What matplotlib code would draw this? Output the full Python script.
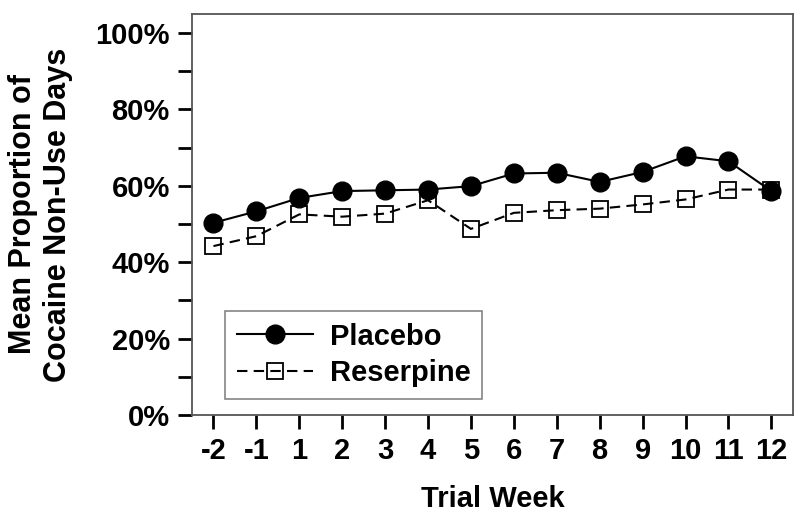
import numpy as np
import matplotlib.pyplot as plt
from matplotlib.ticker import MultipleLocator, FuncFormatter

plt.rcParams['font.family'] = ['Liberation Sans', 'DejaVu Sans']
plt.rcParams['font.weight'] = 'bold'

weeks = ['-2', '-1', '1', '2', '3', '4', '5', '6', '7', '8', '9', '10', '11', '12']
placebo = [50.3, 53.3, 56.8, 58.6, 58.8, 59.0, 59.9, 63.2, 63.4, 61.0, 63.6, 67.7, 66.4, 58.6]
reserpine = [44.2, 46.8, 52.5, 51.9, 52.7, 56.2, 48.7, 52.9, 53.6, 54.0, 55.1, 56.4, 59.0, 59.0]

x = np.arange(len(weeks))

fig = plt.figure(figsize=(8, 5.3), dpi=100)
ax = fig.add_axes([0.24, 0.217, 0.751, 0.757])

ax.plot(x, reserpine, color='black', lw=1.5, dashes=(5, 3), marker='s', ms=12,
        mfc='none', mec='black', mew=1.3, label='Reserpine', zorder=2)
ax.plot(x, placebo, color='black', lw=1.5, marker='o', ms=13.5, mfc='black',
        mec='black', label='Placebo', zorder=3)

ax.set_xlim(-0.5, 13.5)
ax.set_ylim(0, 105)
ax.set_xticks(x)
ax.set_xticklabels(weeks)
ax.yaxis.set_major_locator(MultipleLocator(20))
ax.yaxis.set_minor_locator(MultipleLocator(10))
ax.yaxis.set_major_formatter(FuncFormatter(lambda v, p: '%d%%' % v))

for s in ax.spines.values():
    s.set_color('#555555')
    s.set_linewidth(1.3)

ax.tick_params(axis='both', which='both', direction='out', color='black', width=2,
               length=10, labelsize=21)
ax.tick_params(axis='x', pad=6)
ax.tick_params(axis='y', pad=6)

ax.set_xlabel('Trial Week', fontsize=21, fontweight='bold', labelpad=14)
ax.set_ylabel('Mean Proportion of\nCocaine Non-Use Days', fontsize=22,
              fontweight='bold', multialignment='center')
ax.yaxis.set_label_coords(-0.198, 0.5)

handles, labels = ax.get_legend_handles_labels()
leg = ax.legend(handles[::-1], labels[::-1], loc='lower left',
                bbox_to_anchor=(0.055, 0.04), fontsize=21, frameon=True,
                fancybox=False, edgecolor='#666666', handlelength=2.6,
                handletextpad=0.6, labelspacing=0.3, borderpad=0.4,
                borderaxespad=0)
leg.get_frame().set_linewidth(1.2)

fig.savefig('out.png', dpi=100)
